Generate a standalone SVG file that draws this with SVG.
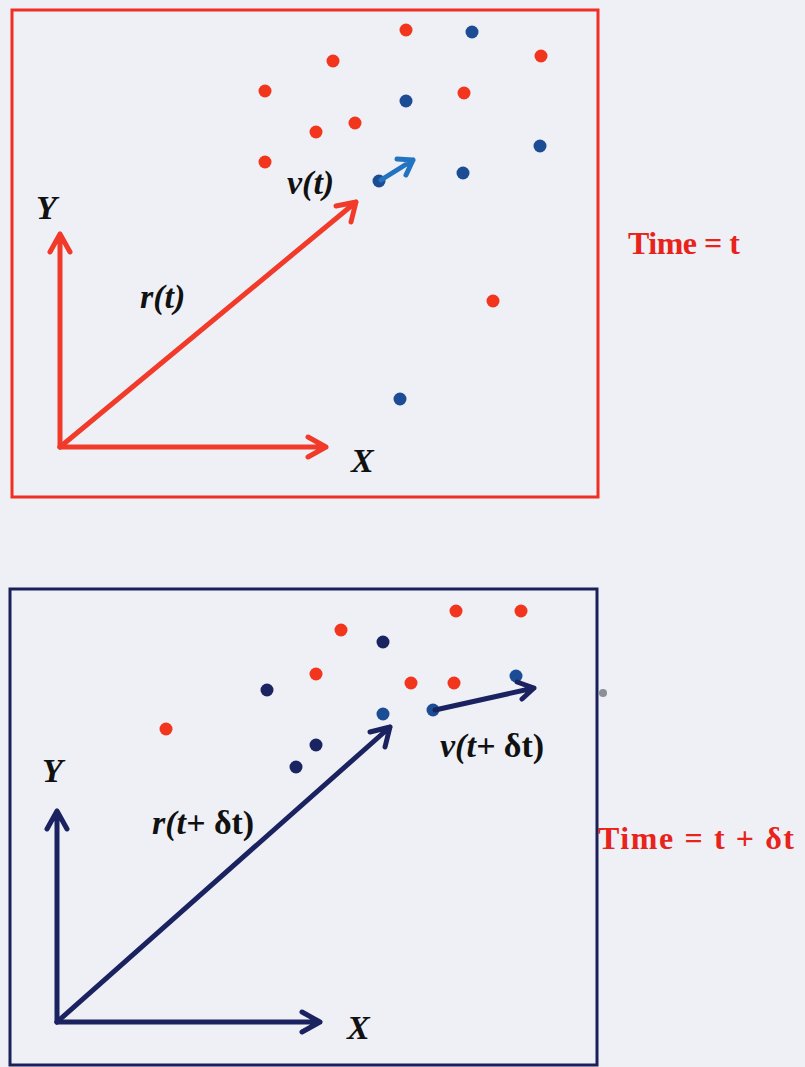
<svg xmlns="http://www.w3.org/2000/svg" width="805" height="1067" viewBox="0 0 805 1067">
<defs>
<style>
.lbl{font-family:"Liberation Serif",serif;font-weight:bold;font-style:italic;font-size:34px;fill:#111}
.time{font-family:"Liberation Serif",serif;font-weight:bold;font-size:32px;fill:#e8231c}
.rd{fill:#f2361e}
.bl{fill:#1c4d94}
.nv{fill:#1a2460}
.ra{stroke:#f23a2a;stroke-width:5;fill:none;stroke-linecap:round;stroke-linejoin:round}
.na{stroke:#1b2260;stroke-width:5;fill:none;stroke-linecap:round;stroke-linejoin:round}
</style>
</defs>
<rect x="0" y="0" width="805" height="1067" fill="#eef0f5"/>
<g id="frame-t">
<rect x="12" y="10" width="586" height="487" fill="none" stroke="#f02e24" stroke-width="3"/>
</g>
<g id="frame-tdt">
<rect x="10" y="589" width="587" height="476" fill="none" stroke="#1a2058" stroke-width="3"/>
</g>
<g id="particles-t">
<circle class="rd" cx="406" cy="30" r="6.5"/>
<circle class="rd" cx="333" cy="61" r="6.5"/>
<circle class="rd" cx="541" cy="56" r="6.5"/>
<circle class="rd" cx="265" cy="91" r="6.5"/>
<circle class="rd" cx="464" cy="93" r="6.5"/>
<circle class="rd" cx="355" cy="123" r="6.5"/>
<circle class="rd" cx="316" cy="132" r="6.5"/>
<circle class="rd" cx="265" cy="162" r="6.5"/>
<circle class="rd" cx="493" cy="301" r="6.5"/>
<circle class="bl" cx="472" cy="32" r="6.5"/>
<circle class="bl" cx="406" cy="101" r="6.5"/>
<circle class="bl" cx="540" cy="146" r="6.5"/>
<circle class="bl" cx="463" cy="173" r="6.5"/>
<circle class="bl" cx="400" cy="399" r="6.5"/>
<circle class="bl" cx="379" cy="181" r="6.5"/>
</g>
<g id="particles-tdt">
<circle class="rd" cx="456" cy="611" r="6.5"/>
<circle class="rd" cx="521" cy="611" r="6.5"/>
<circle class="rd" cx="341" cy="630" r="6.5"/>
<circle class="rd" cx="316" cy="674" r="6.5"/>
<circle class="rd" cx="411" cy="683" r="6.5"/>
<circle class="rd" cx="454" cy="683" r="6.5"/>
<circle class="rd" cx="166" cy="729" r="6.5"/>
<circle class="nv" cx="383" cy="642" r="6.5"/>
<circle class="nv" cx="267" cy="690" r="6.5"/>
<circle class="bl" cx="516" cy="676" r="6.5"/>
<circle class="bl" cx="383" cy="714" r="6.5"/>
<circle class="nv" cx="316" cy="745" r="6.5"/>
<circle class="nv" cx="296" cy="767" r="6.5"/>
<circle class="bl" cx="433" cy="710" r="6.5"/>
<circle cx="603" cy="693" r="4" fill="#8a8f98"/>
</g>
<g id="connectors">
<path class="ra" d="M60 447 V234 M50 252 L60 234 L70 252"/>
<path class="ra" d="M60 447 H326 M308 437 L326 447 L308 457"/>
<path class="ra" d="M60 447 L356 202 M336 206 L356 202 L351 222"/>
<path d="M381 180 L413 160 M397 159 L413 160 L406 175" stroke="#2274c0" stroke-width="5" fill="none" stroke-linecap="round" stroke-linejoin="round"/>
<path class="na" d="M57 1022 V811 M47 829 L57 811 L67 829"/>
<path class="na" d="M57 1022 H320 M302 1012 L320 1022 L302 1032"/>
<path class="na" d="M57 1022 L390 727 M370 732 L390 727 L385 747"/>
<path class="na" d="M435 710 L534 688 M517 682 L534 688 L522 699"/>
</g>
<g id="labels">
<text class="lbl" x="36" y="219">Y</text>
<text class="lbl" x="351" y="472">X</text>
<text class="lbl" x="140" y="308">r(t)</text>
<text class="lbl" x="287" y="194">v(t)</text>
<text class="lbl" x="42" y="782">Y</text>
<text class="lbl" x="347" y="1039">X</text>
<text class="lbl" x="152" y="834">r(<tspan>t</tspan>+ <tspan font-style="normal">δt)</tspan></text>
<text class="lbl" x="440" y="757">v(<tspan>t</tspan>+ <tspan font-style="normal">δt)</tspan></text>
<text class="time" x="628" y="254" textLength="112" lengthAdjust="spacing">Time = t</text>
<text class="time" x="598" y="849" textLength="196" lengthAdjust="spacing">Time = t + δt</text>
</g>
</svg>
